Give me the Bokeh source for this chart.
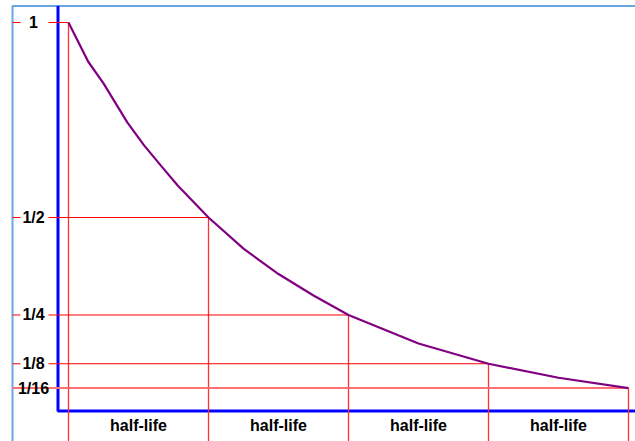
from bokeh.plotting import figure
from bokeh.models import Range1d
from bokeh.embed import file_html
from bokeh.resources import INLINE
from bokeh.core.properties import value

# ---- data ----
half_lives = [0, 1, 2, 3, 4]
fractions = [1, 1/2, 1/4, 1/8, 1/16]
fraction_labels = ["1", "1/2", "1/4", "1/8", "1/16"]
period_centers = [0.5, 1.5, 2.5, 3.5]
period_labels = ["half-life", "half-life", "half-life", "half-life"]
curve_t = [0, 0.14, 0.25, 0.42, 0.54, 0.66, 0.78, 1.0, 1.25, 1.5, 1.75, 2.0,
           2.5, 3.0, 3.5, 4.0]
curve_v = [1.0, 0.90, 0.844, 0.744, 0.685, 0.633, 0.582, 0.5, 0.42, 0.355,
           0.30, 0.25, 0.177, 0.125, 0.089, 0.0625]

# ---- layout (data units) ----
X_MIN, X_MAX = -0.4857, 4.05
Y_MIN, Y_MAX = -0.0744, 1.0564
FRAME_T, FRAME_V = -0.40, 1.0423
AXIS_T, AXIS_V = -0.075, 0.004
LABEL_T = -0.25
GAP_L, GAP_R = -0.343, -0.143
BOTTOM_LABEL_V = -0.034

FONT = value("Liberation Sans")

p = figure(width=635, height=441, output_backend="svg", toolbar_location=None,
           x_range=Range1d(X_MIN, X_MAX), y_range=Range1d(Y_MIN, Y_MAX),
           x_axis_location=None, y_axis_location=None, min_border=0,
           outline_line_color=None, background_fill_color="white",
           border_fill_color="white")
p.grid.visible = False

# light blue frame
p.line([FRAME_T, FRAME_T, X_MAX], [Y_MIN, FRAME_V, FRAME_V],
       line_color="#6aa6e0", line_width=2)

# blue axes
p.line([AXIS_T, AXIS_T, X_MAX], [FRAME_V, AXIS_V, AXIS_V],
       line_color="#0000ff", line_width=3)

# red guide lines
n = len(fractions) - 1
p.segment(x0=half_lives, y0=fractions, x1=half_lives, y1=[Y_MIN] * len(half_lives),
          line_color="#ff3030", line_width=1.3)
p.segment(x0=[FRAME_T] * n, y0=fractions[:n], x1=[GAP_L] * n, y1=fractions[:n],
          line_color="#ff0000", line_width=1)
p.segment(x0=[GAP_R] * n, y0=fractions[:n], x1=half_lives[:n], y1=fractions[:n],
          line_color="#ff0000", line_width=1)
p.segment(x0=[FRAME_T], y0=[fractions[-1]], x1=[half_lives[-1]], y1=[fractions[-1]],
          line_color="#ff7070", line_width=2)

# decay curve
p.line(curve_t, curve_v, line_color="#800080", line_width=2.2)

# labels
p.text(x=[LABEL_T] * len(fractions), y=fractions, text=fraction_labels,
       text_font=FONT, text_font_style="bold", text_font_size="16px",
       text_align="center", text_baseline="middle", text_color="black")
p.text(x=period_centers, y=[BOTTOM_LABEL_V] * len(period_centers), text=period_labels,
       text_font=FONT, text_font_style="bold", text_font_size="16px",
       text_align="center", text_baseline="middle", text_color="black")

template = """
{% block postamble %}
<style>html, body { margin: 0; padding: 0; overflow: hidden; }</style>
{% endblock %}
"""

open("out.html", "w").write(file_html(p, INLINE, template=template))
